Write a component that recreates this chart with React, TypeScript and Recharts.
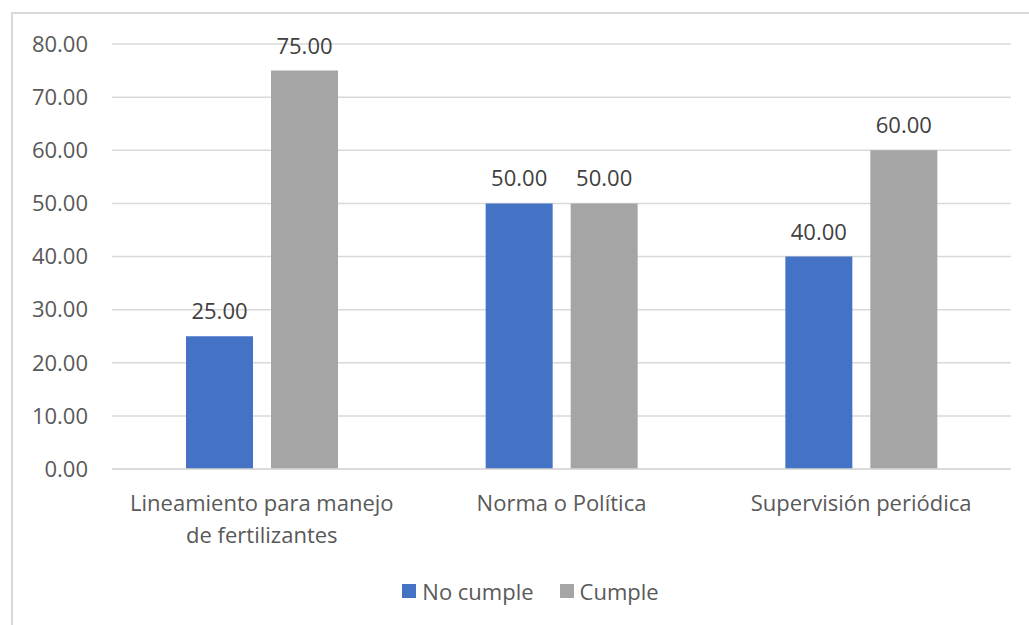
import React from 'react';
import { BarChart, Bar, XAxis, YAxis, CartesianGrid, Legend, LabelList } from 'recharts';

const categories = ['Lineamiento para manejo de fertilizantes', 'Norma o Política', 'Supervisión periódica'];
const categoryLabelLines = [['Lineamiento para manejo', 'de fertilizantes'], ['Norma o Política'], ['Supervisión periódica']];
const noCumple = [25, 50, 40];
const cumple = [75, 50, 60];
const yTicks = [0, 10, 20, 30, 40, 50, 60, 70, 80];
const seriesOrder = ['noCumple', 'cumple'];

const data = categories.map((c, i) => ({ name: c, noCumple: noCumple[i], cumple: cumple[i] }));

const FONT = '"Open Sans", sans-serif';

const CategoryTick = (props: any) => {
  const { x, y, payload } = props;
  const idx = categories.indexOf(payload.value);
  const lines = idx >= 0 ? categoryLabelLines[idx] : [String(payload.value)];
  return (
    <text x={x} y={y} textAnchor="middle" fontSize={22} fontFamily={FONT} fill="#595959">
      {lines.map((l, i) => (
        <tspan key={i} x={x} dy={i === 0 ? 15.6 : 32}>
          {l}
        </tspan>
      ))}
    </text>
  );
};

const LegendContent = (props: any) => {
  const items = [...(props.payload || [])].sort(
    (a: any, b: any) => seriesOrder.indexOf(a.dataKey) - seriesOrder.indexOf(b.dataKey)
  );
  return (
    <div style={{ display: 'flex', justifyContent: 'center', alignItems: 'center', height: 30, fontFamily: FONT, fontSize: 22, color: '#595959' }}>
      {items.map((p: any, i: number) => (
        <div key={i} style={{ display: 'flex', alignItems: 'center', marginRight: i === 0 ? 26 : 0 }}>
          <span style={{ display: 'inline-block', width: 14, height: 14, background: p.color, marginRight: 6 }} />
          <span>{p.value}</span>
        </div>
      ))}
    </div>
  );
};

export default function App() {
  return (
    <div style={{ position: 'absolute', left: 0, top: 0, width: 1029, height: 625, overflow: 'hidden', background: '#fff' }}>
      <div style={{ position: 'absolute', left: 11, top: 12, width: 1060, height: 700, border: '2px solid #d9d9d9', boxSizing: 'border-box' }} />
      <div style={{ position: 'absolute', left: 0, top: 0 }}>
        <BarChart
          width={1029}
          height={625}
          data={data}
          margin={{ top: 44, right: 18, left: 0, bottom: 46 }}
          barSize={67}
          barGap={18}
        >
          <CartesianGrid vertical={false} stroke="#d9d9d9" strokeWidth={1.5} />
          <XAxis
            dataKey="name"
            height={80}
            tickLine={false}
            axisLine={{ stroke: '#d9d9d9', strokeWidth: 1.5 }}
            tickSize={0}
            tickMargin={26}
            tick={(p: any) => <CategoryTick {...p} />}
            interval={0}
          />
          <YAxis
            width={112}
            domain={[0, 80]}
            ticks={yTicks}
            tickFormatter={(v: number) => v.toFixed(2)}
            tickLine={false}
            axisLine={false}
            tickSize={0}
            tickMargin={24}
            tick={{ fontSize: 22, fontFamily: FONT, fill: '#595959' }}
          />
          <Legend
            verticalAlign="bottom"
            content={<LegendContent />}
            wrapperStyle={{ top: 576, bottom: 'auto', left: 16, width: 1029 }}
          />
          <Bar dataKey="noCumple" name="No cumple" fill="#4472C4" isAnimationActive={false}>
            <LabelList
              dataKey="noCumple"
              position="top"
              offset={17}
              formatter={(v: number) => v.toFixed(2)}
              style={{ fontSize: 22, fontFamily: FONT, fill: '#404040' }}
            />
          </Bar>
          <Bar dataKey="cumple" name="Cumple" fill="#A5A5A5" isAnimationActive={false}>
            <LabelList
              dataKey="cumple"
              position="top"
              offset={17}
              formatter={(v: number) => v.toFixed(2)}
              style={{ fontSize: 22, fontFamily: FONT, fill: '#404040' }}
            />
          </Bar>
        </BarChart>
      </div>
    </div>
  );
}
